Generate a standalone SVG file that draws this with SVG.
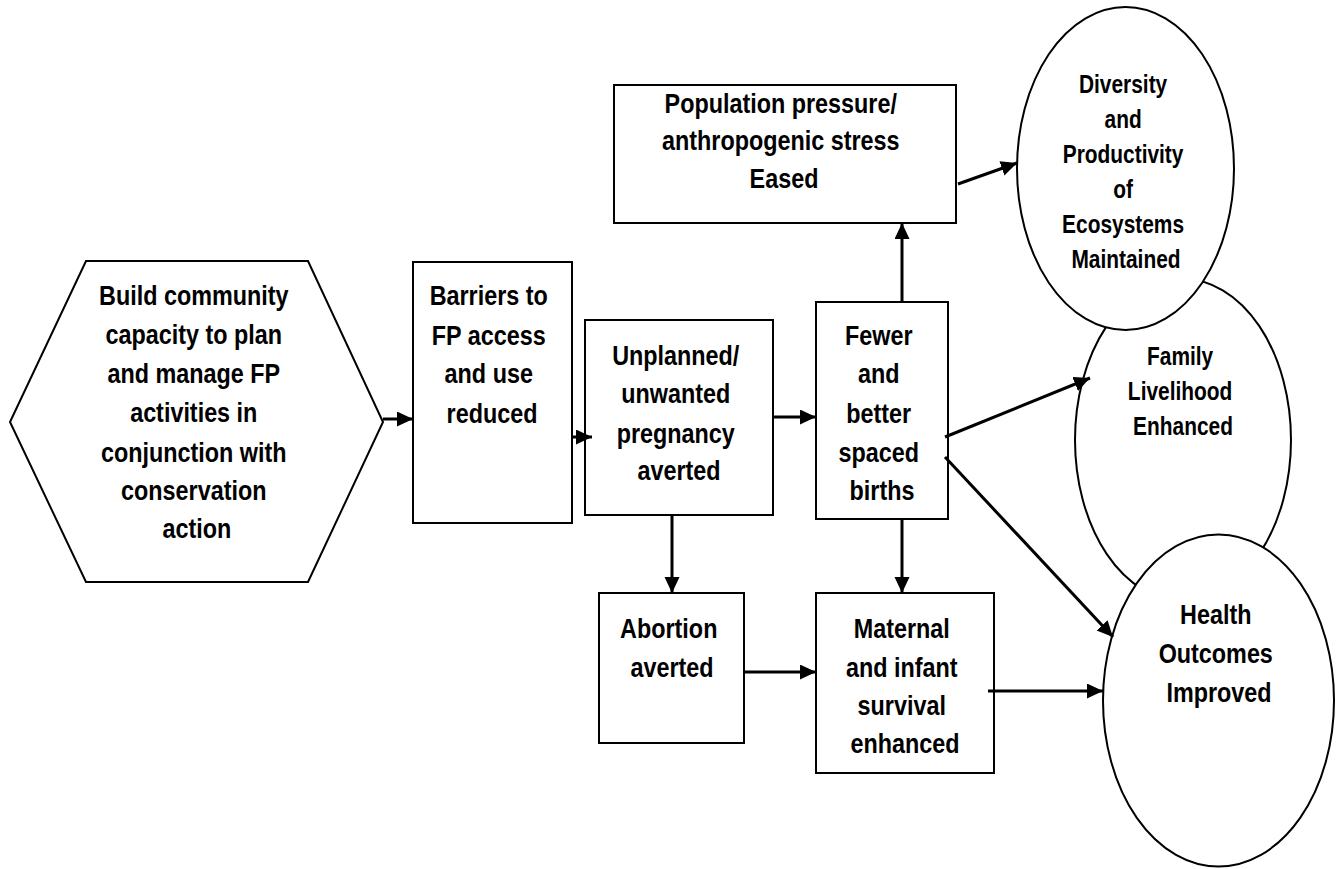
<svg xmlns="http://www.w3.org/2000/svg" width="1338" height="869" viewBox="0 0 1338 869">
<style>
.box{fill:#fff;stroke:#000;stroke-width:2}
.ell{fill:#fff;stroke:#000;stroke-width:2}
.t{font-family:"Liberation Sans",Arial,sans-serif;font-weight:bold;font-size:28.5px;fill:#000;text-anchor:middle}
.ts{font-size:25.5px}
.c{stroke:#000;stroke-width:3;fill:none;marker-end:url(#ah)}
</style>
<defs>
<marker id="ah" markerUnits="userSpaceOnUse" markerWidth="18" markerHeight="16" refX="16" refY="7.5" orient="auto">
<path d="M0,0 L16,7.5 L0,15 Z" fill="#000"/>
</marker>
</defs>
<rect width="1338" height="869" fill="#fff"/>

<g id="n-build">
<polygon class="box" points="86,261 308,261 383,422 308,582 86,582 10,422"/>
<text class="t" transform="translate(197 0) scale(0.82 1)">
<tspan x="0" y="305">Build community</tspan>
<tspan x="0" y="344">capacity to plan</tspan>
<tspan x="0" y="383">and manage FP</tspan>
<tspan x="0" y="422">activities in</tspan>
<tspan x="0" y="462">conjunction with</tspan>
<tspan x="0" y="500">conservation</tspan>
<tspan x="0" y="538">action</tspan>
</text>
</g>

<g id="n-barriers">
<rect class="box" x="413" y="262" width="159" height="261"/>
<text class="t" transform="translate(492 0) scale(0.82 1)">
<tspan x="0" y="305">Barriers to</tspan>
<tspan x="0" y="345">FP access</tspan>
<tspan x="0" y="383">and use</tspan>
<tspan x="0" y="423">reduced</tspan>
</text>
</g>

<g id="n-unplanned">
<rect class="box" x="585" y="320" width="188" height="195"/>
<text class="t" transform="translate(679 0) scale(0.82 1)">
<tspan x="0" y="365">Unplanned/</tspan>
<tspan x="0" y="403">unwanted</tspan>
<tspan x="0" y="443">pregnancy</tspan>
<tspan x="0" y="480">averted</tspan>
</text>
</g>

<g id="n-fewer">
<rect class="box" x="816" y="302" width="132" height="217"/>
<text class="t" transform="translate(882 0) scale(0.82 1)">
<tspan x="0" y="345">Fewer</tspan>
<tspan x="0" y="383">and</tspan>
<tspan x="0" y="423">better</tspan>
<tspan x="0" y="462">spaced</tspan>
<tspan x="0" y="500">births</tspan>
</text>
</g>

<g id="n-population">
<rect class="box" x="614" y="85" width="342" height="138"/>
<text class="t" transform="translate(784 0) scale(0.82 1)">
<tspan x="0" y="113">Population pressure/</tspan>
<tspan x="0" y="150">anthropogenic stress</tspan>
<tspan x="0" y="188">Eased</tspan>
</text>
</g>

<g id="n-abortion">
<rect class="box" x="599" y="593" width="145" height="150"/>
<text class="t" transform="translate(672 0) scale(0.82 1)">
<tspan x="0" y="638">Abortion</tspan>
<tspan x="0" y="677">averted</tspan>
</text>
</g>

<g id="n-maternal">
<rect class="box" x="816" y="593" width="178" height="180"/>
<text class="t" transform="translate(905 0) scale(0.82 1)">
<tspan x="0" y="638">Maternal</tspan>
<tspan x="0" y="677">and infant</tspan>
<tspan x="0" y="715">survival</tspan>
<tspan x="0" y="753">enhanced</tspan>
</text>
</g>

<g id="n-family">
<ellipse class="ell" cx="1183" cy="440" rx="108" ry="161"/>
<text class="t ts" transform="translate(1183 0) scale(0.82 1)">
<tspan x="0" y="365">Family</tspan>
<tspan x="0" y="400">Livelihood</tspan>
<tspan x="0" y="435">Enhanced</tspan>
</text>
</g>

<g id="n-diversity">
<ellipse class="ell" cx="1125.5" cy="168.5" rx="108.5" ry="161.5"/>
<text class="t ts" transform="translate(1126 0) scale(0.82 1)">
<tspan x="0" y="93">Diversity</tspan>
<tspan x="0" y="128">and</tspan>
<tspan x="0" y="163">Productivity</tspan>
<tspan x="0" y="198">of</tspan>
<tspan x="0" y="233">Ecosystems</tspan>
<tspan x="0" y="268">Maintained</tspan>
</text>
</g>

<g id="n-health">
<ellipse class="ell" cx="1218.5" cy="700.5" rx="115.5" ry="166"/>
<text class="t" transform="translate(1219 0) scale(0.82 1)">
<tspan x="0" y="624">Health</tspan>
<tspan x="0" y="663">Outcomes</tspan>
<tspan x="0" y="702">Improved</tspan>
</text>
</g>

<g id="connectors">
<line class="c" x1="383" y1="419" x2="413" y2="419"/>
<line class="c" x1="572" y1="437" x2="592" y2="437"/>
<line class="c" x1="773" y1="417" x2="816" y2="417"/>
<line class="c" x1="902" y1="302" x2="902" y2="223"/>
<line class="c" x1="958" y1="184" x2="1017" y2="163"/>
<line class="c" x1="945" y1="437" x2="1090" y2="378"/>
<line class="c" x1="945" y1="457" x2="1113" y2="637"/>
<line class="c" x1="672" y1="515" x2="672" y2="593"/>
<line class="c" x1="902" y1="519" x2="902" y2="593"/>
<line class="c" x1="744" y1="672" x2="816" y2="672"/>
<line class="c" x1="988" y1="691" x2="1103" y2="691"/>
</g>
</svg>
